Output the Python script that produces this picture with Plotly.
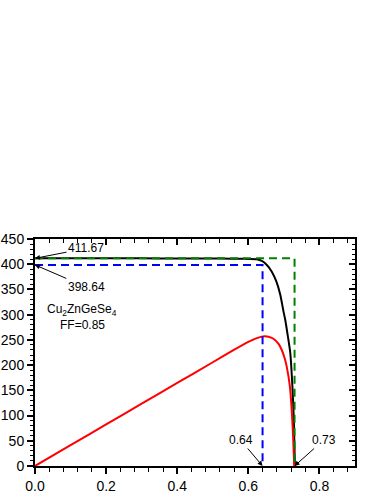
import plotly.graph_objects as go

# values
v_jv = [0.0, 0.1, 0.2, 0.3, 0.4, 0.5, 0.55, 0.58, 0.60, 0.624, 0.638, 0.652, 0.666, 0.679,
        0.690, 0.699, 0.704, 0.711, 0.718, 0.724, 0.728, 0.731]
j_jv = [411.67, 411.67, 411.67, 411.6, 411.5, 411.3, 411.0, 410.8, 410.6, 410.0, 406.4, 398.5,
        385.3, 365.4, 339.0, 306.0, 289.0, 258.0, 224.0, 157.0, 91.0, 0.0]

v_p = [0.0, 0.1, 0.2, 0.3, 0.4, 0.5, 0.558, 0.6, 0.62, 0.635, 0.647, 0.666, 0.675, 0.685,
       0.694, 0.702, 0.708, 0.717, 0.722, 0.726, 0.729]
p = [0.0, 41.2, 82.3, 123.5, 164.6, 205.7, 229.5, 246.0, 252.5, 256.0, 257.0, 254.0, 250.0,
     242.0, 230.0, 214.0, 197.0, 157.0, 111.0, 58.0, 0.0]

jsc_line_v = [0.0, 0.73, 0.73]
jsc_line_j = [411.67, 411.67, 0.0]
mpp_line_v = [0.0, 0.64, 0.64]
mpp_line_j = [398.64, 398.64, 0.0]

font = "Liberation Sans, Arial, sans-serif"

fig = go.Figure()
fig.add_trace(go.Scatter(x=v_jv, y=j_jv, mode="lines",
                         line=dict(color="black", width=2, shape="spline", smoothing=0.6)))
fig.add_trace(go.Scatter(x=v_p, y=p, mode="lines",
                         line=dict(color="#ff0000", width=2, shape="spline", smoothing=0.6)))
fig.add_trace(go.Scatter(x=jsc_line_v, y=jsc_line_j, mode="lines",
                         line=dict(color="#008000", width=2, dash="8px,5px")))
fig.add_trace(go.Scatter(x=mpp_line_v, y=mpp_line_j, mode="lines",
                         line=dict(color="#0000ff", width=2, dash="8px,5px")))
# dummy for the top/right tick axes
fig.add_trace(go.Scatter(x=[0], y=[0], xaxis="x2", yaxis="y2", mode="markers",
                         marker=dict(opacity=0), hoverinfo="skip"))

ax_common = dict(showgrid=False, zeroline=False, showline=True, linecolor="black", linewidth=2,
                 automargin=False)

fig.update_layout(
    width=380, height=492,
    margin=dict(l=35, r=25, t=239, b=26),
    plot_bgcolor="white", paper_bgcolor="white",
    showlegend=False,
    font=dict(family=font, size=14, color="black"),
    xaxis=dict(range=[0, 0.9], dtick=0.2, tick0=0, tickformat=".1f", ticks="outside",
               ticklen=6, tickwidth=1.5, tickcolor="black",
               minor=dict(dtick=0.04, tick0=0, ticks="outside", ticklen=3.5, tickcolor="black", tickwidth=1),
               **ax_common),
    yaxis=dict(range=[0, 450], dtick=50, tick0=0, ticks="outside",
               ticklen=6, tickwidth=1.5, tickcolor="black",
               minor=dict(dtick=10, tick0=0, ticks="outside", ticklen=3.5, tickcolor="black", tickwidth=1),
               **ax_common),
    xaxis2=dict(range=[0, 0.9], overlaying="x", side="top", anchor="y2", dtick=0.2, tick0=0,
                ticks="inside", ticklen=6, tickwidth=1.5, tickcolor="black", showticklabels=False,
                minor=dict(dtick=0.04, tick0=0, ticks="inside", ticklen=3.5, tickcolor="black", tickwidth=1),
                **ax_common),
    yaxis2=dict(range=[0, 450], overlaying="y", side="right", anchor="x2", dtick=50, tick0=0,
                ticks="inside", ticklen=6, tickwidth=1.5, tickcolor="black", showticklabels=False,
                minor=dict(dtick=10, tick0=0, ticks="inside", ticklen=3.5, tickcolor="black", tickwidth=1),
                **ax_common),
)

arrow = dict(showarrow=True, arrowhead=2, arrowsize=1, arrowwidth=1, arrowcolor="black",
             font=dict(size=12, family=font, color="black"))
fig.add_annotation(x=0, y=411.67, text="411.67", ax=51, ay=-10, **arrow)
fig.add_annotation(x=0, y=398.64, text="398.64", ax=51, ay=22, **arrow)
fig.add_annotation(x=0.64, y=0, text="0.64", ax=-22, ay=-26, **arrow)
fig.add_annotation(x=0.73, y=0, text="0.73", ax=29, ay=-26, **arrow)
fig.add_annotation(x=0.132, y=309, text="Cu<sub>2</sub>ZnGeSe<sub>4</sub>", showarrow=False,
                   font=dict(size=12, family=font, color="black"))
fig.add_annotation(x=0.134, y=279, text="FF=0.85", showarrow=False,
                   font=dict(size=12, family=font, color="black"))

# drop the default 8px page margin so the figure fills the window
fig.write_html("out.html", config={"displayModeBar": False},
               post_script="document.body.style.margin='0';")
